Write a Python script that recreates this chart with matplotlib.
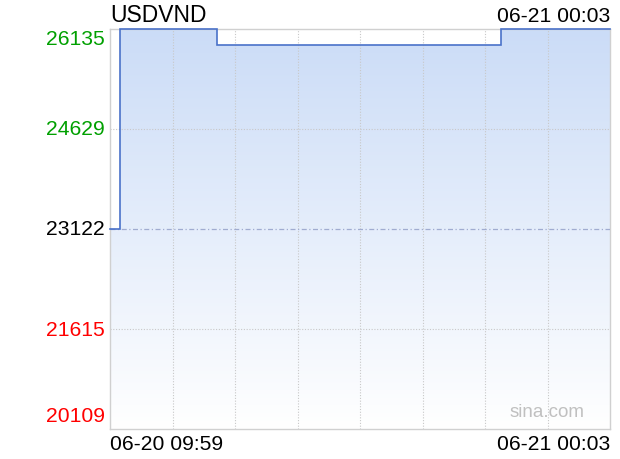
import numpy as np
import matplotlib.pyplot as plt
from matplotlib.colors import LinearSegmentedColormap

plt.rcParams['font.family'] = ['Liberation Sans', 'DejaVu Sans']

# minutes after 06-20 09:59, step values
minutes = [0, 17, 180, 660, 844]
rates = [23122, 26135, 25900, 26135, 26135]

y_ticks = [20109, 21615, 23122, 24629, 26135]
y_colors = ['#ff0000', '#ff0000', '#000000', '#00a000', '#00a000']
prev_close = 23122
title = 'USDVND'
start_label = '06-20 09:59'
end_label = '06-21 00:03'

W, H = 620, 460
fig = plt.figure(figsize=(W / 100, H / 100), dpi=100)
ax = fig.add_axes([110 / W, 30 / H, 500 / W, 400 / H])

t_end = minutes[-1]
ax.set_xlim(0, t_end)
ax.set_ylim(y_ticks[0], y_ticks[-1])

# step line
xs, ys = [], []
for i in range(len(minutes) - 1):
    xs += [minutes[i], minutes[i + 1]]
    ys += [rates[i], rates[i]]
ax.plot(xs, ys, color='#4a72c9', lw=1.2, zorder=4, solid_joinstyle='miter',
        clip_on=False)

# gradient fill under line
poly = ax.fill_between(xs, ys, y_ticks[0], color='none', lw=0)
cmap = LinearSegmentedColormap.from_list('g', ['#ffffff', '#cbdcf7'])
grad = np.linspace(0, 1, 256).reshape(-1, 1)
im = ax.imshow(grad, cmap=cmap, aspect='auto', origin='lower',
               extent=[0, t_end, y_ticks[0], y_ticks[-1]], zorder=1)
path = poly.get_paths()[0]
im.set_clip_path(path, transform=ax.transData)

# grid
for k in range(1, 8):
    ax.axvline(t_end * k / 8, color='#c8c8c8', lw=0.8, ls=(0, (1, 1.5)), zorder=2)
for v in y_ticks[1:-1]:
    if v == prev_close:
        continue
    ax.axhline(v, color='#c8c8c8', lw=0.8, ls=(0, (1, 1.5)), zorder=2)
ax.axhline(prev_close, color='#a0acd0', lw=0.9, ls=(0, (4, 2, 1, 2)), zorder=3)

for s in ax.spines.values():
    s.set_color('#d0d0d0')
    s.set_linewidth(1.0)
ax.set_xticks([])
ax.set_yticks([])

fs = 15.2
for v, c in zip(y_ticks, y_colors):
    if v == y_ticks[-1]:
        ax.text(-5 / 500 * t_end, v, str(v), color=c, fontsize=fs, ha='right',
                va='top', clip_on=False)
    elif v == y_ticks[0]:
        ax.annotate(str(v), (0, v), xytext=(-5, 4), textcoords='offset pixels',
                    color=c, fontsize=fs, ha='right', va='bottom',
                    annotation_clip=False)
    else:
        ax.text(-5 / 500 * t_end, v, str(v), color=c, fontsize=fs, ha='right',
                va='center', clip_on=False)

fig.text(110 / W, 1 - 16 / H, title, fontsize=16.5, ha='left', va='center')
fig.text(610 / W, 1 - 17 / H, end_label, fontsize=fs, ha='right', va='center')
fig.text(110 / W, 1 - 445 / H, start_label, fontsize=fs, ha='left', va='center')
fig.text(610 / W, 1 - 445 / H, end_label, fontsize=fs, ha='right', va='center')
fig.text(585 / W, 1 - 413 / H, 'sina.com', fontsize=13.5, color='#c0c0c0',
         ha='right', va='center')

fig.savefig('out.png', dpi=100)
